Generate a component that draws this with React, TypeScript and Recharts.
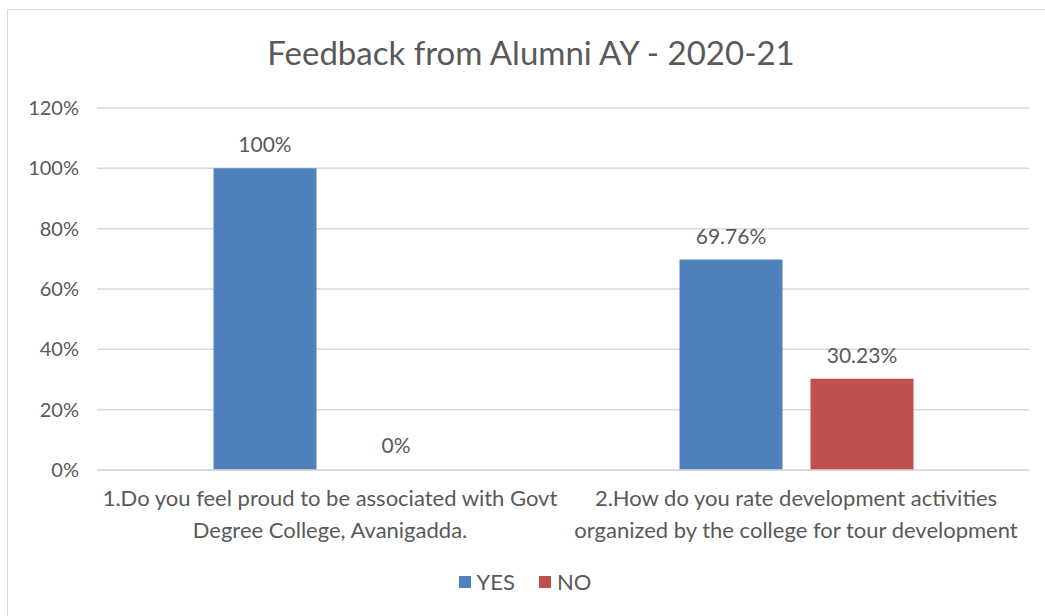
import { BarChart, Bar, XAxis, YAxis, CartesianGrid, Legend, LabelList, Rectangle } from "recharts";

const questions = [
  "1.Do you feel proud to be associated with Govt|Degree College, Avanigadda.",
  "2.How do you rate development activities|organized by the college for tour development",
];
const yesValues = [100, 69.76];
const noValues = [0, 30.23];
const yTicks = [0, 20, 40, 60, 80, 100, 120];
const seriesNames = ["YES", "NO"];
const seriesColors = ["#4f81bd", "#c0504d"];

const data = questions.map((q, i) => ({ q, YES: yesValues[i], NO: noValues[i] }));

const FONT = "Lato, 'Open Sans', sans-serif";
const GREY = "#595959";

function QuestionTick(props: any) {
  const { x, y, payload } = props;
  const lines = String(payload.value).split("|");
  return (
    <g transform={`translate(${x},${y})`}>
      {lines.map((line, i) => (
        <text
          key={i}
          x={0}
          y={28 + i * 32}
          textAnchor="middle"
          fill={GREY}
          fontSize={22}
          fontFamily={FONT}
        >
          {line}
        </text>
      ))}
    </g>
  );
}

// zero-valued bars get a tiny min size so their label still shows, but draw nothing
function BarShape(props: any) {
  if (!props.value) return <g />;
  return <Rectangle {...props} />;
}

function LegendBox() {
  return (
    <div
      style={{
        display: "flex",
        justifyContent: "center",
        gap: 24,
        fontFamily: FONT,
        fontSize: 22,
        color: GREY,
        paddingLeft: 4,
      }}
    >
      {seriesNames.map((name, i) => (
        <div key={name} style={{ display: "flex", alignItems: "center", gap: 6 }}>
          <span style={{ display: "inline-block", width: 12, height: 12, background: seriesColors[i] }} />
          <span>{name}</span>
        </div>
      ))}
    </div>
  );
}

const labelStyle = { fill: GREY, fontSize: 21, fontFamily: FONT };

export default function App() {
  return (
    <div style={{ position: "absolute", left: 0, top: 0, width: 1045, height: 616, background: "#fff" }}>
      <div
        style={{
          position: "absolute",
          left: 7,
          top: 9,
          width: 1050,
          height: 620,
          border: "1px solid #d9d9d9",
        }}
      />
      <div
        style={{
          position: "absolute",
          left: 0,
          width: 1062,
          top: 32,
          textAlign: "center",
          fontFamily: FONT,
          fontSize: 33,
          color: GREY,
        }}
      >
        Feedback from Alumni AY - 2020-21
      </div>
      <BarChart
        width={1045}
        height={616}
        data={data}
        margin={{ top: 108, right: 16, left: 17, bottom: 16 }}
        barCategoryGap="25%"
        barGap={28}
        style={{ position: "absolute", left: 0, top: 0 }}
      >
        <CartesianGrid vertical={false} stroke="#d9d9d9" strokeWidth={1.5} />
        <XAxis
          dataKey="q"
          tick={<QuestionTick />}
          tickLine={false}
          axisLine={{ stroke: "#d9d9d9", strokeWidth: 1.5 }}
          height={80}
          interval={0}
        />
        <YAxis
          domain={[0, 120]}
          ticks={yTicks}
          tickFormatter={(v) => `${v}%`}
          tick={{ fontSize: 20, fill: GREY, fontFamily: FONT }}
          axisLine={false}
          tickLine={false}
          tickMargin={12}
          width={80}
        />
        <Legend
          verticalAlign="bottom"
          height={50}
          content={() => <LegendBox />}
          wrapperStyle={{ top: 568 }}
        />
        <Bar dataKey="YES" fill={seriesColors[0]} isAnimationActive={false}>
          <LabelList
            dataKey="YES"
            position="top"
            offset={16}
            formatter={(v: any) => `${v}%`}
            style={labelStyle}
          />
        </Bar>
        <Bar
          dataKey="NO"
          fill={seriesColors[1]}
          minPointSize={1}
          shape={<BarShape />}
          isAnimationActive={false}
        >
          <LabelList
            dataKey="NO"
            position="top"
            offset={16}
            formatter={(v: any) => `${v}%`}
            style={labelStyle}
          />
        </Bar>
      </BarChart>
    </div>
  );
}
